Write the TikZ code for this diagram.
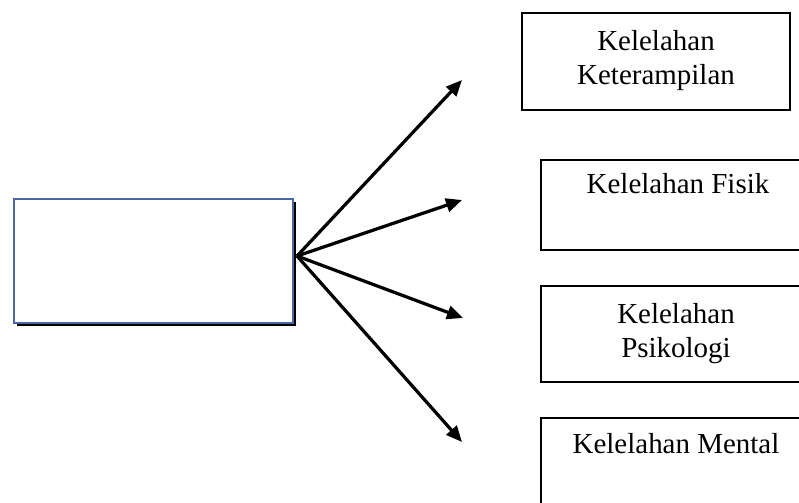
\documentclass[tikz,border=0pt]{standalone}
\usepackage{fontspec}
\setmainfont{Liberation Serif}
\usetikzlibrary{arrows.meta}
\definecolor{srcblue}{HTML}{4A67A6}
\begin{document}
\begin{tikzpicture}[x=0.025cm, y=-0.025cm,
  outbox/.style={draw=black, line width=1.4pt, inner sep=0pt},
  srcbox/.style={draw=srcblue, line width=1.4pt, fill=white, inner sep=0pt},
  labeltext/.style={font=\fontsize{20.6}{24}\selectfont, align=center, inner sep=0pt, anchor=base},
  fan/.style={line width=2.3pt, -{Triangle[length=0.4cm, width=0.34cm]}}]
  \useasboundingbox (0,0) rectangle (799,502);
  \clip (0,0) rectangle (799,502);
  % left box with shadow
  \fill[black] (17,202) rectangle (296,326);
  \node[srcbox, minimum width=6.975cm, minimum height=3.1cm] (src) at (153.5,261) {};
  % right boxes
  \node[outbox, minimum width=6.7cm, minimum height=2.425cm] (ketr) at (656,61.5) {};
  \node[labeltext] (ketrtxt) at (656,84) {Kelelahan\\Keterampilan};
  \node[outbox, minimum width=6.775cm, minimum height=2.25cm] (fisik) at (676.5,205) {};
  \node[labeltext] (fisiktxt) at (678,193) {Kelelahan Fisik};
  \node[outbox, minimum width=6.775cm, minimum height=2.4cm] (psiko) at (676.5,334) {};
  \node[labeltext] (psikotxt) at (676,357) {Kelelahan\\Psikologi};
  \node[outbox, minimum width=6.775cm, minimum height=2.55cm] (mental) at (676.5,469) {};
  \node[labeltext] (mentaltxt) at (676,453) {Kelelahan Mental};
  % arrows
  \coordinate (hub) at (297,256);
  \coordinate (tipA) at (462,80);
  \coordinate (tipB) at (462,200);
  \coordinate (tipC) at (463,318);
  \coordinate (tipD) at (462,442);
  \foreach \t in {tipA,tipB,tipC,tipD}
    \draw[fan] (hub) -- (\t);
\end{tikzpicture}
\end{document}
